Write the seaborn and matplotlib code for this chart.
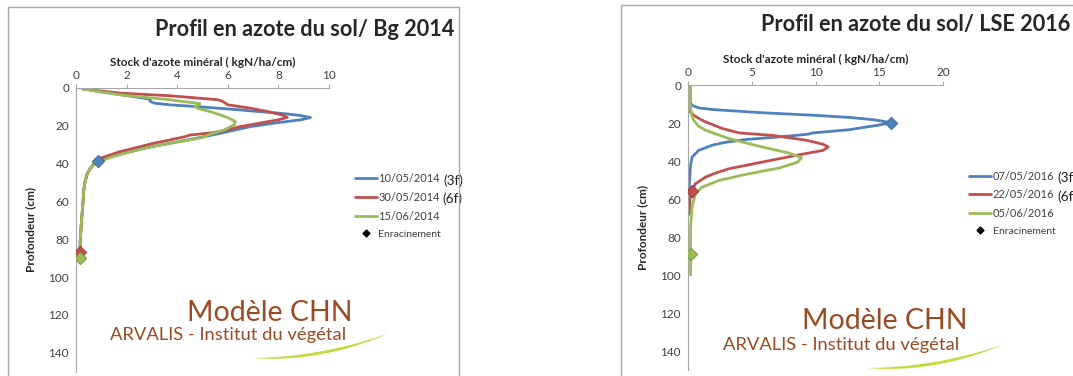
import numpy as np
import pandas as pd
import seaborn as sns
import matplotlib
matplotlib.use("Agg")
import matplotlib.pyplot as plt
from matplotlib.patches import Rectangle, Polygon
from matplotlib.lines import Line2D

sns.set_style("white")
plt.rcParams['font.family'] = ['Lato', 'DejaVu Sans']

# ---- données : profil Bg 2014 ----
bg_blue_depth = [0.5, 2, 4, 5.9, 7.1, 8, 8.9, 10.1, 11.5, 12.1, 13.3, 14.4, 15.6, 16.8, 18.3, 20.4, 22.2, 24,
                 25.8, 27.5, 29.3, 31, 32.9, 34.5, 36, 38.7, 42, 45, 50, 55, 60, 70, 80, 90]
bg_blue_val = [0.27, 1.0, 2.0, 2.93, 2.93, 3.1, 3.7, 5.05, 6.4, 6.9, 8.0, 8.8, 9.27, 8.9, 8.0, 6.9, 6.3, 5.7,
               5.05, 4.4, 3.7, 3.0, 2.4, 1.9, 1.46, 0.86, 0.6, 0.45, 0.35, 0.3, 0.28, 0.22, 0.17, 0.15]
bg_red_depth = [0.5, 2.7, 4.1, 6.2, 7.1, 8.9, 10.7, 12.5, 14.5, 15.6, 16.8, 18.5, 20.4, 22, 23.6, 24.9, 25.8,
                27.5, 29.3, 31.5, 33.7, 37.3, 40, 42, 45, 50, 55, 60, 70, 80, 87]
bg_red_val = [0.27, 1.73, 3.7, 5.6, 5.8, 6.0, 6.9, 7.6, 8.2, 8.35, 8.0, 7.3, 6.5, 6.0, 5.45, 4.5, 4.3,
              3.7, 3.05, 2.4, 1.73, 0.93, 0.7, 0.6, 0.45, 0.35, 0.3, 0.28, 0.22, 0.17, 0.15]
bg_green_depth = [0.5, 3.6, 6.2, 8.3, 9.8, 10.7, 12.5, 14.2, 16, 17.8, 19.5, 22.2, 24.9, 26.1, 27.7, 29.3, 31,
                  32.9, 34.8, 36.8, 40.9, 45, 50, 55, 60, 70, 80, 90]
bg_green_val = [0.27, 1.73, 3.7, 4.9, 4.7, 4.8, 5.3, 5.7, 6.05, 6.3, 6.25, 5.85, 5.2, 5.05, 4.4, 3.7, 3.0,
                2.4, 1.85, 1.33, 0.66, 0.45, 0.35, 0.3, 0.28, 0.22, 0.17, 0.15]
bg_labels = ['10/05/2014', '30/05/2014', '15/06/2014']
bg_stage = ['(3f)', '(6f)', '']
bg_root_depth = [38.7, 87, 90]
bg_root_val = [0.86, 0.15, 0.15]

# ---- données : profil LSE 2016 ----
lse_blue_depth = [0.9, 8.8, 10.2, 11.1, 12.1, 12.9, 14.6, 15.9, 17.1, 18.3, 19.8, 21.3, 22.4, 23.5, 25.2, 25.9,
                  27.3, 28.7, 30.2, 31.7, 34.4, 37.9, 43.2, 53.8, 58]
lse_blue_val = [0.18, 0.18, 0.25, 0.45, 0.9, 1.9, 5.8, 9.8, 12.7, 14.6, 15.9, 14.8, 13.7, 12.7, 9.8, 9.4,
                7.2, 4.5, 2.9, 1.9, 0.84, 0.32, 0.18, 0.1, 0.1]
lse_red_depth = [0.9, 11.5, 14, 15.9, 17.6, 19.4, 22.9, 25.2, 26.5, 29.1, 31.2, 32.6, 34.4, 37, 40.6, 44.1,
                 46.5, 48.5, 52, 55.6, 60, 68]
lse_red_val = [0.0, 0.05, 0.15, 0.45, 0.85, 1.37, 2.7, 4.0, 6.6, 9.3, 10.6, 11.0, 10.6, 8.5, 5.8, 3.2,
               2.1, 1.37, 0.58, 0.32, 0.15, 0.1]
lse_green_depth = [0.9, 11.5, 16, 18.5, 21.5, 23.8, 28.2, 32.6, 35.8, 38.3, 40.6, 43.6, 47.1, 50.3, 53.8,
                   57.3, 60.5, 64, 67.5, 75, 90, 100]
lse_green_val = [0.18, 0.18, 0.3, 0.45, 0.8, 1.37, 3.2, 5.8, 7.9, 8.9, 8.6, 7.2, 4.5, 2.4, 1.1,
                 0.58, 0.45, 0.33, 0.28, 0.2, 0.2, 0.2]
lse_labels = ['07/05/2016', '22/05/2016', '05/06/2016']
lse_stage = ['(3f)', '(6f)', '']
lse_root_depth = [19.8, 55.6, 89]
lse_root_val = [15.9, 0.32, 0.2]

colors = ['#4F81BD', '#C0504D', '#9BBB59']
edges = ['#3A6595', '#953735', '#76923C']

W, H = 1073, 376
fig = plt.figure(figsize=(W / 100, H / 100), dpi=100)


def fx(x):
    return x / W


def fy(y):
    return 1 - y / H


def profile(ax, series, labels, stages, root_depth, root_val, xmax, xstep, leg_x):
    rows = []
    for lab, (d, v) in zip(labels, series):
        rows += [{'serie': lab, 'prof': a, 'stock': b} for a, b in zip(d, v)]
    df = pd.DataFrame(rows)
    sns.lineplot(data=df, x='stock', y='prof', hue='serie', palette=colors, hue_order=labels,
                 sort=False, estimator=None, orient='y', lw=2, ax=ax, legend=False)
    roots = pd.DataFrame({'serie': labels, 'prof': root_depth, 'stock': root_val})
    for i in range(3):
        r = roots.iloc[[i]]
        sns.scatterplot(data=r, x='stock', y='prof', marker='D', s=40, color=colors[i],
                        edgecolor=edges[i], linewidth=0.6, ax=ax, zorder=5, legend=False)
    ax.set_xlim(0, xmax)
    ax.set_ylim(150, 0)
    ax.set_xticks(np.arange(0, xmax + 0.1, xstep))
    ax.set_yticks(np.arange(0, 141, 20))
    ax.xaxis.tick_top()
    ax.xaxis.set_label_position('top')
    for s in ['right', 'bottom']:
        ax.spines[s].set_visible(False)
    for s in ['top', 'left']:
        ax.spines[s].set_color('#A6A6A6')
        ax.spines[s].set_linewidth(0.8)
    ax.tick_params(axis='both', direction='out', length=3, width=0.8, color='#A6A6A6',
                   labelsize=8.5, labelcolor='#404040', pad=2)
    ax.set_xlabel("Stock d'azote minéral ( kgN/ha/cm)", fontsize=8.5, fontweight='bold', labelpad=3)
    ax.set_ylabel('Profondeur (cm)', fontsize=8.5, fontweight='bold', labelpad=9)
    ax.patch.set_alpha(0)
    handles = [Line2D([], [], color=c, lw=2) for c in colors]
    handles.append(Line2D([], [], color='black', marker='D', ls='none', markersize=3.5))
    leg = ax.legend(handles, labels + ['Enracinement'], loc='upper left', bbox_to_anchor=(leg_x, 0.715),
                    frameon=False, fontsize=7.9, handlelength=2.0, handletextpad=0.15, labelspacing=0.7,
                    borderaxespad=0, labelcolor='#404040')
    leg.get_texts()[-1].set_fontsize(7.5)
    for txt, st in zip(leg.get_texts(), stages):
        if st:
            # drawn after the legend so that the label position is known
            ax.annotate(st, xy=(1, 0.35), xycoords=txt, xytext=(2, 0), textcoords='offset points',
                        fontsize=9.8, va='center', ha='left', color='#202020', annotation_clip=False,
                        zorder=10)


def swoosh(x0, y0, x1, y1, bend, thick):
    t = np.linspace(0, 1, 60)
    cx, cy = (x0 + x1) / 2, (y0 + y1) / 2 + bend
    bx = (1 - t) ** 2 * x0 + 2 * (1 - t) * t * cx + t ** 2 * x1
    by = (1 - t) ** 2 * y0 + 2 * (1 - t) * t * cy + t ** 2 * y1
    w = thick * np.sin(np.pi * t) ** 0.8
    pts = np.concatenate([np.c_[bx, by - w / 2], np.c_[bx, by + w / 2][::-1]])
    fig.add_artist(Polygon(np.c_[fx(pts[:, 0]), fy(pts[:, 1])], closed=True, transform=fig.transFigure,
                           color='#C5D940', lw=0))


def brand(xc, y_title, x_sub, y_sub):
    fig.text(fx(xc), fy(y_title), 'Modèle CHN', fontsize=20.5, color='#9A4A22', ha='center', va='center')
    fig.text(fx(x_sub), fy(y_sub), 'ARVALIS - Institut du végétal', fontsize=13.2, color='#9A4A22',
             ha='left', va='center')


# cadres des deux graphiques
fig.add_artist(Rectangle((fx(8), -0.05), fx(459) - fx(8), fy(7) + 0.05, transform=fig.transFigure,
                         fill=False, ec='#A6A6A6', lw=1))
fig.add_artist(Rectangle((fx(621), -0.05), 0.5, fy(5) + 0.05, transform=fig.transFigure,
                         fill=False, ec='#A6A6A6', lw=1))

# filigranes
brand(270, 313, 110, 335)
swoosh(253, 358, 387, 334, 14, 3)
brand(885, 321, 723, 345)
swoosh(867, 368, 1002, 345, 14, 3)

ax1 = fig.add_axes([fx(76), fy(371.5), fx(329) - fx(76), fy(88) - fy(371.5)])
profile(ax1, [(bg_blue_depth, bg_blue_val), (bg_red_depth, bg_red_val), (bg_green_depth, bg_green_val)],
        bg_labels, bg_stage, bg_root_depth, bg_root_val, 10, 2, 1.085)

ax2 = fig.add_axes([fx(688), fy(370), fx(943) - fx(688), fy(85) - fy(370)])
profile(ax2, [(lse_blue_depth, lse_blue_val), (lse_red_depth, lse_red_val), (lse_green_depth, lse_green_val)],
        lse_labels, lse_stage, lse_root_depth, lse_root_val, 20, 5, 1.086)

fig.text(fx(454), fy(29), 'Profil en azote du sol/ Bg 2014', fontsize=15.6, fontweight='bold',
         ha='right', va='center')
fig.text(fx(1070), fy(25), 'Profil en azote du sol/ LSE 2016', fontsize=15.6, fontweight='bold',
         ha='right', va='center')

fig.savefig('out.png', dpi=100)
